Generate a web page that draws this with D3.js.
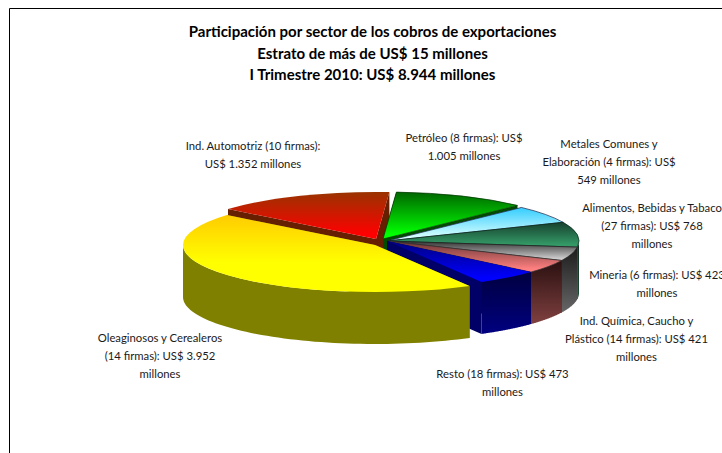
<!DOCTYPE html>
<html><head><meta charset="utf-8">
<script src="https://cdn.jsdelivr.net/npm/d3@7"></script>
<style>html,body{margin:0;padding:0;background:#fff;overflow:hidden}svg{display:block}</style>
</head><body><div id="c"></div>
<script>
const sectors = ["Petróleo","Metales Comunes y Elaboración","Alimentos, Bebidas y Tabaco","Minería","Ind. Química, Caucho y Plástico","Resto","Oleaginosos y Cerealeros","Ind. Automotriz"];
const values = [1005,549,768,423,421,473,3952,1352];
const titleLines = ["Participación por sector de los cobros de exportaciones","Estrato de más de US$ 15 millones","I Trimestre 2010: US$ 8.944 millones"];
const labelLines = [
 ["Petróleo (8 firmas): US$","1.005 millones"],
 ["Metales Comunes y","Elaboración (4 firmas): US$","549 millones"],
 ["Alimentos, Bebidas y Tabaco","(27 firmas): US$ 768","millones"],
 ["Mineria (6 firmas): US$ 423","millones"],
 ["Ind. Química, Caucho y","Plástico (14 firmas): US$ 421","millones"],
 ["Resto (18 firmas): US$ 473","millones"],
 ["Oleaginosos y Cerealeros","(14 firmas): US$ 3.952","millones"],
 ["Ind. Automotriz (10 firmas):","US$ 1.352 millones"]
];
// layout and style (separate from the data)
const W=722,H=453, cx=387, cy=241, R=192, ry=47, depth=52, startDeg=4;
const offsets=[[-4,-2],[0,0],[0,0],[0,0],[0,0],[0,0],[-12,4],[-11,-2]];
const topColors=[["#006600","#00ff00"],["#33ccff","#d8ffff"],["#17402e","#339966"],["#303030","#cccccc"],["#663333","#ff8080"],["#000080","#0000ff"],["#ffcc00","#ffff00"],["#993300","#ff0000"]];
const wallColors=[["#006600","#006600"],["#1a6680","#1a6680"],["#102a20","#1a4d33"],["#1c1c1c","#666666"],["#2a1010","#804040"],["#000040","#000080"],["#808000","#808000"],["#662200","#662200"]];
const faceColors=["#004d00","#1a6680","#1a4d33","#333333","#4d2626","#000066","#808000","#661f00"];
const edgeColors=["#003300","#224","#0d2a1e","#222","#333","none","none","none"];
const labelPos=[[464,142],[609,148],[652,212],[657,279],[636.5,325],[502.5,378],[160,342],[253,150]];
const drawOrder=[7,0,1,2,3,4,5,6];
const font="Lato, 'Open Sans', sans-serif";

const svg=d3.select("#c").append("svg").attr("width",W).attr("height",H);
svg.append("rect").attr("width",W).attr("height",H).attr("fill","#fff");
svg.append("path").attr("d",d3.line()([[9.5,H],[9.5,8.5],[W,8.5]])).attr("fill","none").attr("stroke","#000").attr("stroke-width",1);

const start=startDeg*Math.PI/180;
const arcs=d3.pie().sort(null).startAngle(start).endAngle(start+2*Math.PI)(values);
const defs=svg.append("defs");
function grad(id,c,mid){
  const g=defs.append("linearGradient").attr("id",id).attr("x1",0).attr("x2",0).attr("y1",0).attr("y2",1);
  g.append("stop").attr("offset",0).attr("stop-color",c[0]);
  g.append("stop").attr("offset",mid).attr("stop-color",c[1]);
}
topColors.forEach((c,i)=>grad("t"+i,c,i===6?0.62:0.9));
wallColors.forEach((c,i)=>grad("w"+i,c,1));

const px=a=>R*Math.sin(a), py=a=>-ry*Math.cos(a);
const arcGen=d3.arc().innerRadius(0).outerRadius(R);
const wallGen=d3.area().x(a=>px(a)).y0(a=>py(a)).y1(a=>py(a)+depth);
const faceGen=d3.line();
const front0=Math.PI/2, front1=3*Math.PI/2;

drawOrder.forEach(i=>{
  const d=arcs[i];
  const g=svg.append("g").attr("transform",`translate(${cx+offsets[i][0]},${cy+offsets[i][1]})`);
  [d.startAngle,d.endAngle].forEach(a=>{
    g.append("path").attr("fill",faceColors[i])
     .attr("d",faceGen([[0,0],[px(a),py(a)],[px(a),py(a)+depth],[0,depth]])+"Z");
  });
  const a0=Math.max(d.startAngle,front0), a1=Math.min(d.endAngle,front1);
  if(a1>a0){
    const n=60, samples=d3.range(n+1).map(k=>a0+(a1-a0)*k/n);
    g.append("path").attr("fill",`url(#w${i})`).attr("d",wallGen(samples));
  }
  g.append("path").attr("transform",`scale(1,${ry/R})`)
   .attr("fill",`url(#t${i})`)
   .attr("stroke",edgeColors[i]).attr("stroke-width",0.7)
   .attr("vector-effect","non-scaling-stroke")
   .attr("d",arcGen({startAngle:d.startAngle,endAngle:d.endAngle}));
});

const tg=svg.append("g").attr("font-family",font).attr("font-weight",700).attr("font-size",15).attr("text-anchor","middle").attr("fill","#000");
tg.selectAll("text").data(titleLines).join("text").attr("x",372.5).attr("y",(d,i)=>37+i*21.5).text(d=>d);

labelLines.forEach((ls,i)=>{
  const t=svg.append("g").attr("font-family",font).attr("font-size",11.3).attr("text-anchor","middle").attr("fill","#1a1a1a");
  t.selectAll("text").data(ls).join("text").attr("x",labelPos[i][0]).attr("y",(d,k)=>labelPos[i][1]+k*18).text(d=>d);
});
</script></body></html>
